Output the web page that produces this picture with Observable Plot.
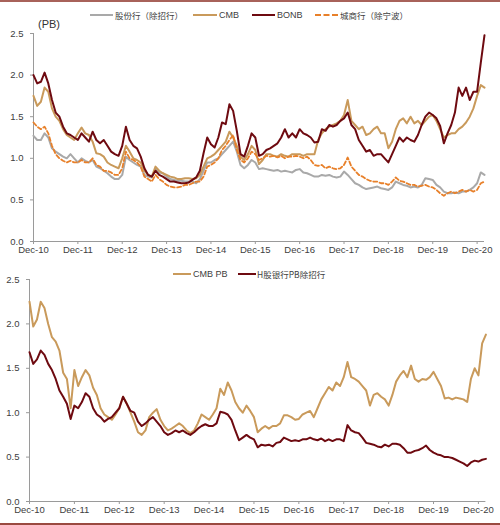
<!DOCTYPE html>
<html><head><meta charset="utf-8">
<script src="https://cdn.jsdelivr.net/npm/d3@7"></script>
<script src="https://cdn.jsdelivr.net/npm/@observablehq/plot@0.6"></script>
<style>
body{margin:0;background:#fff;}
#wrap{position:relative;width:500px;height:525px;overflow:hidden;background:#fff;font-family:"Liberation Sans",Arial,sans-serif;}
.abs{position:absolute;}
.lg{position:absolute;font-size:9px;color:#404040;white-space:nowrap;line-height:12px;}
.cjk{font-family:"Noto Sans CJK SC","Liberation Sans",sans-serif;font-size:8.5px;}
.sw{position:absolute;height:0;}
</style>
</head><body>
<div id="wrap"></div>
<script>
// ---------- data (monthly, month 0 = Dec-10 ... 122 = Feb-21) ----------
const tickMonths = [0,12,24,36,48,60,72,84,96,108,120];
const tickLabels = ["Dec-10","Dec-11","Dec-12","Dec-13","Dec-14","Dec-15","Dec-16","Dec-17","Dec-18","Dec-19","Dec-20"];
const yTicks = [0,0.5,1.0,1.5,2.0,2.5];

const topSeriesNames = ["股份行（除招行）","CMB","BONB","城商行（除宁波）"];
const bottomSeriesNames = ["CMB PB","H股银行PB除招行"];

const jointStockTop = [1.27,1.22,1.22,1.30,1.25,1.12,1.08,1.05,1.02,1.00,1.05,1.00,0.95,
1.00,0.97,0.95,0.98,0.90,0.88,0.85,0.82,0.78,0.75,0.75,0.80,
1.02,0.98,0.95,0.92,0.90,0.80,0.78,0.77,0.87,0.83,0.82,0.78,
0.75,0.74,0.73,0.73,0.72,0.72,0.72,0.70,0.75,0.85,0.95,0.95,
0.98,1.00,1.05,1.10,1.15,1.20,1.08,0.92,0.88,0.92,0.98,0.95,
0.87,0.88,0.87,0.86,0.85,0.86,0.84,0.85,0.84,0.83,0.86,0.87,
0.83,0.82,0.80,0.78,0.78,0.80,0.79,0.80,0.78,0.77,0.78,0.84,
0.80,0.75,0.70,0.68,0.65,0.63,0.64,0.65,0.66,0.64,0.63,0.62,
0.65,0.72,0.70,0.68,0.67,0.65,0.66,0.65,0.68,0.76,0.75,0.74,
0.68,0.65,0.60,0.58,0.58,0.59,0.58,0.60,0.60,0.62,0.65,0.70,
0.83,0.80];

const cmbTop = [1.75,1.63,1.68,1.85,1.80,1.60,1.50,1.45,1.35,1.28,1.25,1.22,1.30,
1.37,1.30,1.28,1.20,1.06,1.05,1.02,0.95,0.92,0.90,0.88,1.00,
1.15,1.08,1.00,0.98,0.95,0.85,0.80,0.78,0.90,0.85,0.82,0.80,
0.78,0.77,0.75,0.75,0.76,0.76,0.75,0.76,0.80,0.90,1.00,1.02,
1.05,1.10,1.15,1.20,1.32,1.25,1.15,1.02,0.98,1.05,1.15,1.10,
0.93,0.98,1.05,1.05,1.03,1.02,1.05,1.03,1.02,1.05,1.05,1.05,
1.03,1.05,1.05,1.05,1.22,1.30,1.35,1.38,1.40,1.42,1.45,1.52,
1.70,1.45,1.40,1.35,1.38,1.28,1.30,1.35,1.38,1.30,1.30,1.12,
1.20,1.35,1.45,1.48,1.42,1.50,1.42,1.45,1.40,1.45,1.50,1.52,
1.45,1.35,1.25,1.28,1.30,1.30,1.35,1.38,1.43,1.50,1.60,1.75,
1.88,1.85];

const bonbTop = [2.00,1.90,1.92,2.03,1.90,1.70,1.55,1.50,1.38,1.30,1.28,1.25,1.22,
1.30,1.25,1.20,1.32,1.22,1.18,1.22,1.15,1.08,1.05,1.03,1.15,
1.38,1.22,1.15,1.12,1.02,0.88,0.80,0.78,0.85,0.80,0.78,0.75,
0.72,0.72,0.71,0.70,0.70,0.71,0.74,0.77,0.85,1.06,1.25,1.17,
1.13,1.25,1.43,1.41,1.65,1.57,1.33,1.05,1.02,1.15,1.30,1.25,
1.03,1.05,1.10,1.12,1.15,1.18,1.25,1.35,1.25,1.30,1.25,1.35,
1.30,1.28,1.25,1.19,1.20,1.35,1.33,1.40,1.38,1.40,1.45,1.48,
1.55,1.40,1.35,1.22,1.15,1.08,1.10,1.03,1.05,1.05,1.00,0.95,
1.05,1.15,1.25,1.20,1.25,1.22,1.20,1.28,1.40,1.50,1.55,1.52,
1.48,1.39,1.18,1.30,1.40,1.55,1.85,1.75,1.85,1.70,1.80,1.80,
2.15,2.48];

const cityTop = [1.43,1.38,1.35,1.38,1.30,1.15,1.05,1.00,0.97,0.95,0.97,0.95,0.95,
0.98,0.95,0.95,1.00,0.92,0.90,0.85,0.85,0.83,0.80,0.80,0.88,
1.08,1.00,0.98,0.95,0.90,0.78,0.75,0.72,0.80,0.75,0.72,0.68,
0.66,0.65,0.65,0.66,0.68,0.68,0.70,0.72,0.72,0.78,0.90,0.92,
0.95,1.00,1.10,1.15,1.22,1.28,1.10,0.98,0.95,1.00,1.08,1.05,
0.98,1.00,1.03,1.02,1.03,1.01,1.03,1.00,1.02,1.02,1.03,1.02,
1.00,1.02,0.98,0.92,0.91,0.92,0.88,0.90,0.88,0.87,0.88,0.92,
1.01,0.90,0.85,0.80,0.78,0.75,0.73,0.72,0.72,0.70,0.70,0.68,
0.72,0.77,0.73,0.72,0.70,0.68,0.68,0.66,0.67,0.68,0.66,0.65,
0.62,0.58,0.55,0.58,0.60,0.58,0.60,0.62,0.60,0.62,0.60,0.62,
0.70,0.72];

const cmbBottom = [2.25,1.97,2.05,2.25,2.18,2.00,1.85,1.80,1.70,1.45,1.38,1.05,1.48,
1.30,1.40,1.48,1.42,1.28,1.20,1.05,0.98,0.95,0.92,0.98,1.05,
1.18,1.10,1.00,0.90,0.78,0.75,0.80,0.95,1.00,1.04,0.92,0.85,
0.80,0.82,0.85,0.88,0.85,0.80,0.77,0.80,0.88,0.98,0.95,0.92,
0.98,1.05,1.27,1.20,1.34,1.25,1.12,1.05,1.00,1.08,1.02,0.95,
0.78,0.82,0.85,0.82,0.85,0.85,0.88,0.97,0.97,0.95,0.92,0.93,
0.98,1.00,1.02,0.95,1.05,1.15,1.22,1.29,1.25,1.34,1.30,1.40,
1.57,1.40,1.38,1.35,1.30,1.25,1.08,1.20,1.22,1.18,1.15,1.08,
1.20,1.35,1.42,1.47,1.40,1.53,1.38,1.35,1.38,1.37,1.40,1.46,
1.38,1.30,1.16,1.17,1.15,1.17,1.16,1.15,1.12,1.38,1.50,1.42,
1.78,1.88];

const hBankBottom = [1.68,1.55,1.60,1.70,1.65,1.55,1.48,1.38,1.25,1.18,1.10,0.93,1.08,
1.05,1.12,1.22,1.18,1.05,0.98,0.95,0.90,0.93,0.95,1.00,1.05,
1.18,1.10,1.02,1.00,0.90,0.85,0.88,0.92,0.95,0.90,0.85,0.78,
0.75,0.77,0.80,0.78,0.80,0.77,0.75,0.78,0.82,0.85,0.87,0.85,
0.85,0.88,1.01,1.00,0.98,0.92,0.80,0.69,0.72,0.75,0.72,0.70,
0.61,0.64,0.63,0.64,0.62,0.66,0.67,0.72,0.70,0.68,0.69,0.68,
0.70,0.70,0.72,0.70,0.69,0.71,0.68,0.70,0.68,0.70,0.70,0.68,
0.86,0.80,0.78,0.77,0.72,0.66,0.65,0.64,0.62,0.61,0.64,0.62,
0.65,0.65,0.64,0.60,0.55,0.55,0.57,0.58,0.60,0.63,0.58,0.55,
0.53,0.52,0.50,0.50,0.49,0.47,0.45,0.43,0.40,0.44,0.46,0.45,
0.47,0.48];

// ---------- build ----------
const C_GRAY="#a9a9a9", C_TAN="#c99a5b", C_RED="#6e0a10", C_ORANGE="#e8802a";
const rows = (vals,name)=>vals.map((v,i)=>({m:i,v,name}));
const fmtX = d => tickLabels[tickMonths.indexOf(d)];
const baseStyle = {fontFamily:"'Liberation Sans',Arial,sans-serif",fontSize:"9.5px",color:"#404040",background:"transparent",overflow:"visible"};

function axes(){
  return [
    Plot.ruleX([0],{stroke:"#9a9a9a",strokeWidth:1}),
    Plot.ruleY([0],{stroke:"#9a9a9a",strokeWidth:1}),
    Plot.axisY(yTicks,{tickFormat:d=>d.toFixed(1),tickSize:3,tickPadding:7,stroke:"#9a9a9a",fill:"#404040",label:null}),
    Plot.axisX(tickMonths,{tickFormat:fmtX,tickSize:3,tickPadding:2,stroke:"#9a9a9a",fill:"#404040",label:null})
  ];
}

const topChart = Plot.plot({
  width:500,height:260,marginTop:33,marginBottom:19,marginLeft:33,marginRight:16,
  style:baseStyle,
  x:{domain:[0,122]}, y:{domain:[0,2.5]},
  marks:[
    ...axes(),
    Plot.line(rows(jointStockTop,topSeriesNames[0]),{x:"m",y:"v",stroke:C_GRAY,strokeWidth:2}),
    Plot.line(rows(cmbTop,topSeriesNames[1]),{x:"m",y:"v",stroke:C_TAN,strokeWidth:2}),
    Plot.line(rows(bonbTop,topSeriesNames[2]),{x:"m",y:"v",stroke:C_RED,strokeWidth:2}),
    Plot.line(rows(cityTop,topSeriesNames[3]),{x:"m",y:"v",stroke:C_ORANGE,strokeWidth:1.8,strokeDasharray:"4,2.5"})
  ]
});

const bottomChart = Plot.plot({
  width:500,height:265,marginTop:19,marginBottom:24,marginLeft:29,marginRight:14.6,
  style:baseStyle,
  x:{domain:[0,122]}, y:{domain:[0,2.5]},
  marks:[
    ...axes(),
    Plot.line(rows(cmbBottom,bottomSeriesNames[0]),{x:"m",y:"v",stroke:C_TAN,strokeWidth:2}),
    Plot.line(rows(hBankBottom,bottomSeriesNames[1]),{x:"m",y:"v",stroke:C_RED,strokeWidth:2})
  ]
});

const wrap = document.getElementById("wrap");
topChart.style.position="absolute"; topChart.style.left="0px"; topChart.style.top="0px";
bottomChart.style.position="absolute"; bottomChart.style.left="0px"; bottomChart.style.top="260px";
wrap.appendChild(topChart); wrap.appendChild(bottomChart);

function add(html){ wrap.insertAdjacentHTML("beforeend",html); }
// borders
add('<div class="abs" style="left:0;top:0;width:500px;height:1.5px;background:#a8625a"></div>');
add('<div class="abs" style="left:0;top:523px;width:500px;height:2px;background:#9a4a40"></div>');
// (PB) unit label
add('<div class="abs" style="left:38px;top:18px;font-size:11px;color:#333">(PB)</div>');

function swatch(x,y,w,color,dashed){
  return `<div class="sw" style="left:${x}px;top:${y}px;width:${w}px;border-top:2px ${dashed?"dashed":"solid"} ${color}"></div>`;
}
function label(x,y,text,cjk){
  return `<div class="lg${cjk?" cjk":""}" style="left:${x}px;top:${y}px">${text}</div>`;
}
// top legend (y ~ 15)
add(swatch(90,14,23,C_GRAY,false)); add(label(115,9,topSeriesNames[0],true));
add(swatch(193,14,24,C_TAN,false)); add(label(219,9,topSeriesNames[1],false));
add(swatch(252,14,23,C_RED,false)); add(label(277,9,topSeriesNames[2],false));
add(swatch(315,14,23,C_ORANGE,true)); add(label(340,9,topSeriesNames[3],true));
// bottom legend (y ~ 274)
add(swatch(173,273,18,C_TAN,false)); add(label(193,268,bottomSeriesNames[0],false));
add(swatch(238,273,18,C_RED,false)); add(label(257,268,bottomSeriesNames[1],true));
</script>
</body></html>
